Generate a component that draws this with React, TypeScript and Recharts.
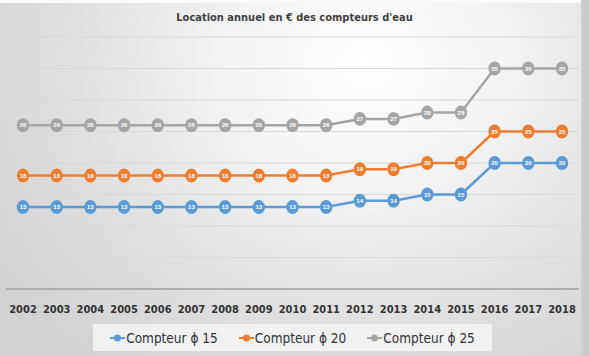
import React from 'react';
import { LineChart, Line, XAxis, YAxis, CartesianGrid, Legend } from 'recharts';

const years = ['2002','2003','2004','2005','2006','2007','2008','2009','2010','2011','2012','2013','2014','2015','2016','2017','2018'];
const compteur15 = [13,13,13,13,13,13,13,13,13,13,14,14,15,15,20,20,20];
const compteur20 = [18,18,18,18,18,18,18,18,18,18,19,19,20,20,25,25,25];
const compteur25 = [26,26,26,26,26,26,26,26,26,26,27,27,28,28,35,35,35];
const yTicks = [0,5,10,15,20,25,30,35,40];

const seriesNames = ['Compteur \u03D5 15', 'Compteur \u03D5 20', 'Compteur \u03D5 25'];
const seriesKeys = ['c15', 'c20', 'c25'];
const colors = ['#5B9BD5', '#ED7D31', '#A5A5A5'];

const data = years.map((y, i) => ({ year: y, c15: compteur15[i], c20: compteur20[i], c25: compteur25[i] }));

const FONT = '"Liberation Sans", Arial, sans-serif';
const CFONT = '"DejaVu Sans Condensed", "DejaVu Sans", sans-serif';

const makeDot = (color: string) => (props: any) => {
  const { cx, cy, index } = props;
  if (cx == null || cy == null) return <g key={index} />;
  return <ellipse key={index} cx={cx} cy={cy} rx={6.2} ry={7} fill={color} />;
};

const renderLabel = (props: any) => {
  const { x, y, value, index } = props;
  return (
    <text key={index} x={x} y={y} dy={2} textAnchor="middle" fill="#ffffff" fontSize={6} fontWeight="bold" fontFamily={FONT}>
      {value}
    </text>
  );
};

const LegendContent = () => (
  <div style={{ background: 'rgba(245,245,245,0.85)', height: 27, width: 399, display: 'flex', alignItems: 'center', justifyContent: 'center', fontFamily: CFONT, fontStretch: 'condensed', fontSize: 13.5, color: '#333333' }}>
    {seriesNames.map((n, i) => (
      <div key={n} style={{ display: 'flex', alignItems: 'center', marginRight: i < 2 ? 21 : 0 }}>
        <svg width={15} height={10} style={{ marginRight: 1 }}>
          <line x1={0} y1={5} x2={15} y2={5} stroke={colors[i]} strokeWidth={2} />
          <circle cx={7.5} cy={5} r={3.5} fill={colors[i]} />
        </svg>
        <span>{n}</span>
      </div>
    ))}
  </div>
);

export default function App() {
  return (
    <div style={{ position: 'absolute', left: 0, top: 0, width: 589, height: 356, overflow: 'hidden',
      background: 'radial-gradient(ellipse 75% 110% at 62% 18%, #ffffff 0%, #f4f4f4 30%, #dedede 70%, #d2d2d2 100%)' }}>
      <div style={{ position: 'absolute', left: 0, top: 0, width: 589, height: 3, background: '#fafafa' }} />
      <div style={{ position: 'absolute', right: 0, top: 0, width: 8, height: 356, background: 'linear-gradient(to right, #d0d0d0, #c4c4c4)' }} />
      <div style={{ position: 'absolute', left: 0, top: 11, width: 589, textAlign: 'center', fontFamily: CFONT, fontStretch: 'condensed', fontSize: 11, fontWeight: 'bold', color: '#404040' }}>
        Location annuel en € des compteurs d'eau
      </div>
      <LineChart width={589} height={356} data={data} margin={{ top: 37, right: 10, left: 6, bottom: 37 }} style={{ position: 'absolute', left: 0, top: 0 }}>
        <CartesianGrid horizontal vertical={false} stroke="#d9d9d9" strokeWidth={1} />
        <YAxis hide domain={[0, 40]} ticks={yTicks} type="number" />
        <XAxis dataKey="year" padding={{ left: 17, right: 17 }} tickLine={false} axisLine={{ stroke: '#a0a0a0', strokeWidth: 1.5 }}
          tickMargin={10} interval={0} tick={{ fill: '#333333', fontSize: 11, fontWeight: 'bold', fontFamily: CFONT, style: { fontStretch: 'condensed' } }} />
        {seriesKeys.map((k, i) => (
          <Line key={k} dataKey={k} name={seriesNames[i]} stroke={colors[i]} strokeWidth={2.5} type="linear"
            dot={makeDot(colors[i])} activeDot={false} label={renderLabel} isAnimationActive={false} />
        ))}
        <Legend layout="horizontal" verticalAlign="middle" align="center" content={<LegendContent />}
          wrapperStyle={{ position: 'absolute', left: 93, top: 324, width: 399, height: 27 }} />
      </LineChart>
    </div>
  );
}
